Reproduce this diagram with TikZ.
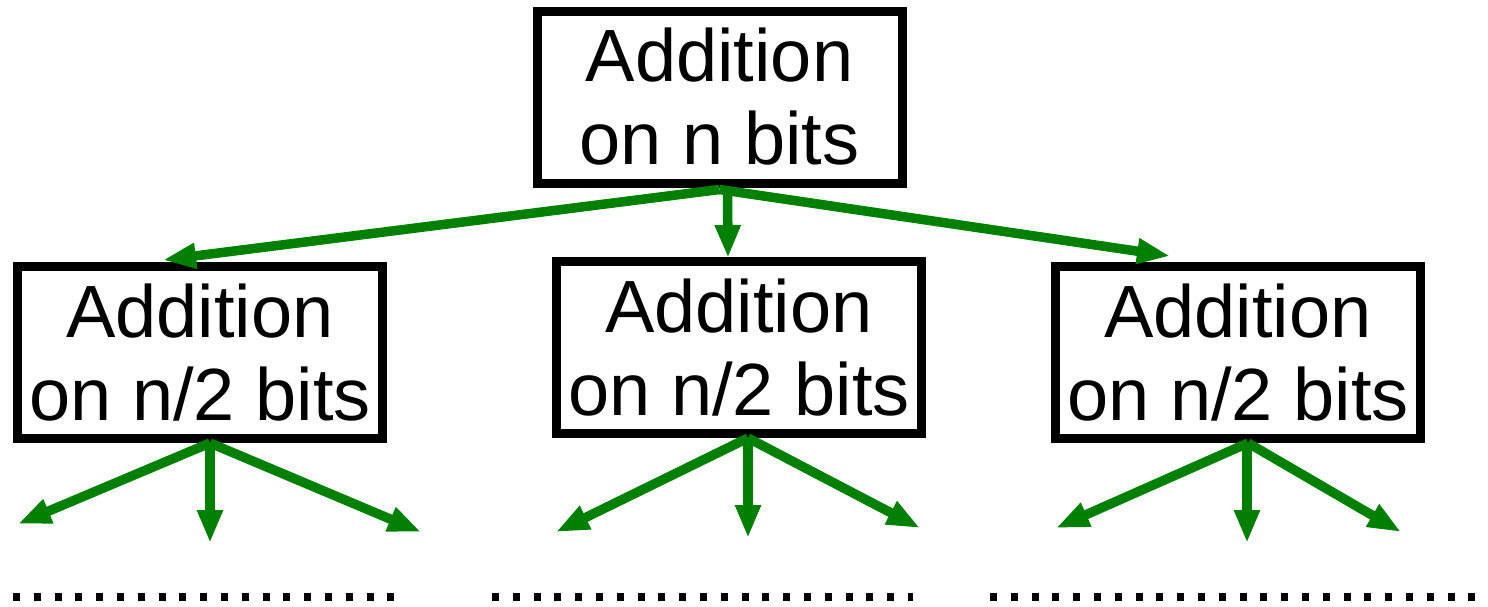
\documentclass[tikz,border=0pt]{standalone}
\usepackage{fontspec}
\setmainfont{Liberation Sans}
\usetikzlibrary{arrows.meta}
\definecolor{treegreen}{RGB}{0,128,0}
\begin{document}
\begin{tikzpicture}[x=1pt,y=-1pt,
  addbox/.style={draw, line width=9pt, line join=miter, minimum width=365pt,
    minimum height=172pt, inner sep=0pt, align=center,
    font=\fontsize{74}{83}\selectfont},
  split/.style={draw=treegreen, line width=9.5pt,
    -{Triangle[length=33pt,width=24pt]}},
  etc/.style={line width=8pt, dash pattern=on 7pt off 13.8pt}]
\useasboundingbox (0,0) rectangle (1488,606);

% the recursion tree
\node[addbox] (top)   at (719.5,97)   {Addition\\on n bits};
\node[addbox] (left)  at (200,352.5)  {Addition\\on n/2 bits};
\node[addbox] (mid)   at (739,347.5)  {Addition\\on n/2 bits};
\node[addbox] (right) at (1238,352.5) {Addition\\on n/2 bits};

% arrow tips of the first level
\coordinate (t1) at (163,260);
\coordinate (t2) at (728,258);
\coordinate (t3) at (1170,256);

\draw[split] ([yshift=-2pt]top.south) -- (t1);
\draw[split] ([xshift=8pt,yshift=-2pt]top.south) -- (t2);
\draw[split] ([yshift=-2pt]top.south) -- (t3);

% arrow tips of the second level
\coordinate (l1) at (18,524);
\coordinate (l2) at (210,543);
\coordinate (l3) at (421,532);
\coordinate (m1) at (556,532);
\coordinate (m2) at (748,538);
\coordinate (m3) at (920,528);
\coordinate (r1) at (1056,528);
\coordinate (r2) at (1247,543);
\coordinate (r3) at (1401,532);

\draw[split] ([xshift=10pt]left.south) -- (l1);
\draw[split] ([xshift=10pt]left.south) -- (l2);
\draw[split] ([xshift=10pt]left.south) -- (l3);
\draw[split] ([xshift=9pt]mid.south) -- (m1);
\draw[split] ([xshift=9pt]mid.south) -- (m2);
\draw[split] ([xshift=9pt]mid.south) -- (m3);
\draw[split] ([xshift=10pt]right.south) -- (r1);
\draw[split] ([xshift=9pt]right.south) -- (r2);
\draw[split] ([xshift=10pt]right.south) -- (r3);

% continuation dots
\draw[etc] (13,597) -- (395,597);
\draw[etc] (492,597) -- (913,597);
\draw[etc] (990,597) -- (1500,597);
\end{tikzpicture}
\end{document}
